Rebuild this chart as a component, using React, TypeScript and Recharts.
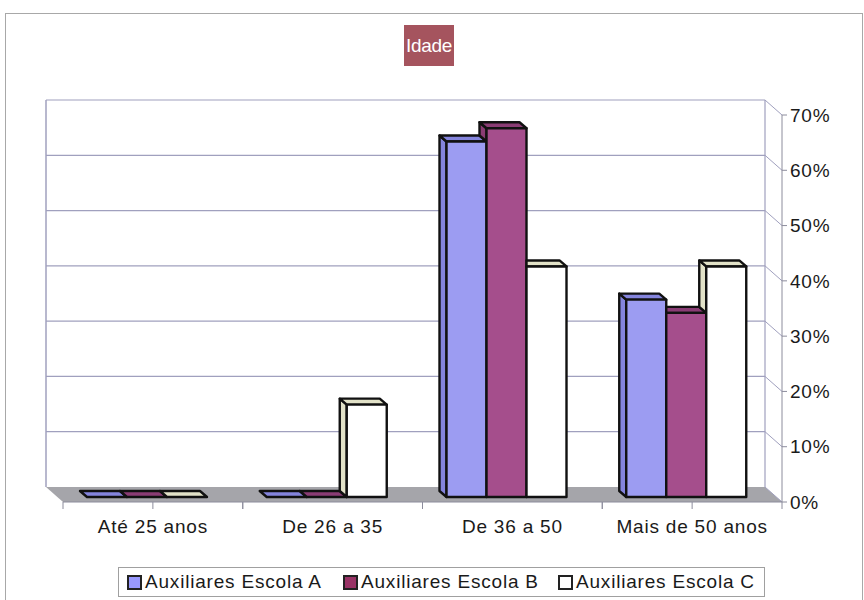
import { Bar, BarChart, CartesianGrid, Legend, XAxis, YAxis } from "recharts";

const categories = ["Até 25 anos", "De 26 a 35", "De 36 a 50", "Mais de 50 anos"];
const escolaA = [0, 0, 64.3, 35.7];
const escolaB = [0, 0, 66.7, 33.3];
const escolaC = [0, 16.7, 41.7, 41.7];
const seriesNames = ["Auxiliares Escola A", "Auxiliares Escola B", "Auxiliares Escola C"];
const yTicks = [0, 10, 20, 30, 40, 50, 60, 70];

const data = categories.map((name, i) => ({
  name,
  a: escolaA[i],
  b: escolaB[i],
  c: escolaC[i],
}));

const FONT = "'Liberation Sans', Arial, sans-serif";
const GRID = "#A0A0BE";
const AXIS = "#8C8C9C";
const TEXT = "#1A1A1A";

// wall depth, bar offset from front plane, bar depth
const DX = 17;
const DY = 15;
const BOX = -6;
const BOY = -5;
const BD = 7;
const BDY = 6;

const pts = (a: number[][]) => a.map((p) => p.join(",")).join(" ");

type Key = "a" | "b" | "c";

function bar3d(key: Key, prevKey: Key | null, face: string, shade: string) {
  return (p: any) => {
    const w = p.width;
    const h = p.height;
    if (w == null || h == null || p.x == null || p.y == null) return <g />;
    const x = p.x + BOX;
    const y = p.y + BOY;
    const base = y + h;
    const v = p.payload?.[key] ?? 0;
    const pv = prevKey ? p.payload?.[prevKey] ?? 0 : -1;
    const clip = prevKey !== null && pv > v;
    const top = clip
      ? [[x, y], [x + w, y], [x + w - BD, y - BDY], [x, y - BDY]]
      : [[x, y], [x + w, y], [x + w - BD, y - BDY], [x - BD, y - BDY]];
    let sideBottom: number | null = null;
    if (prevKey === null) sideBottom = base;
    else if (v > 0 && pv < v) sideBottom = base - (h * pv) / v;
    const line = { stroke: "#111", strokeWidth: 2.4, strokeLinejoin: "round" as const };
    return (
      <g>
        {sideBottom !== null && sideBottom > y && (
          <polygon
            points={pts([[x, y], [x - BD, y - BDY], [x - BD, sideBottom - BDY], [x, sideBottom]])}
            fill={shade}
            {...line}
          />
        )}
        <polygon points={pts(top)} fill={shade} {...line} />
        {h > 0 && <rect x={x} y={y} width={w} height={h} fill={face} {...line} />}
      </g>
    );
  };
}

function wallLine(p: any) {
  const { x1, x2, y1 } = p;
  const top = p.y;
  const bottom = p.y + p.height;
  const isBottom = Math.abs(y1 - bottom) < 0.5;
  const isTop = Math.abs(y1 - top) < 0.5;
  return (
    <g key={p.key}>
      {isBottom ? (
        <polygon
          points={pts([[x1 - DX, y1 - DY], [x2 - DX, y1 - DY], [x2, y1], [x1, y1]])}
          fill="#A5A5AA"
        />
      ) : (
        <line x1={x1 - DX} y1={y1 - DY} x2={x2 - DX} y2={y1 - DY} stroke={GRID} strokeWidth={1.2} />
      )}
      <line x1={x2 - DX} y1={y1 - DY} x2={x2} y2={y1} stroke={GRID} />
      {isTop && (
        <>
          <line x1={x1 - DX} y1={top - DY} x2={x1 - DX} y2={bottom - DY} stroke={GRID} strokeWidth={1.5} />
          <line x1={x2 - DX} y1={top - DY} x2={x2 - DX} y2={bottom - DY} stroke={GRID} strokeWidth={1.2} />
        </>
      )}
    </g>
  );
}

function catTicks(p: any) {
  const band = (p.width ?? 0) / categories.length;
  const yb = p.y2;
  return (
    <g key={p.key}>
      <line x1={p.x1 - band / 2} y1={yb} x2={p.x1 - band / 2} y2={yb + 7} stroke={AXIS} />
      <line x1={p.x1 + band / 2} y1={yb} x2={p.x1 + band / 2} y2={yb + 7} stroke={AXIS} />
    </g>
  );
}

const legendColors = ["#9999FF", "#993366", "#FFFFFF"];
const legendLefts = [8, 224, 439];

function LegendBox() {
  return (
    <div
      style={{
        boxSizing: "border-box",
        position: "relative",
        width: 647,
        height: 30,
        border: "1px solid #A0A0A0",
        background: "#fff",
        fontFamily: FONT,
        fontSize: 19,
        letterSpacing: 0.8,
        color: TEXT,
        whiteSpace: "nowrap",
      }}
    >
      {seriesNames.map((n, i) => (
        <span
          key={n}
          style={{
            position: "absolute",
            left: legendLefts[i],
            top: 0,
            height: 28,
            display: "flex",
            alignItems: "center",
          }}
        >
          <span
            style={{
              width: 11,
              height: 11,
              border: "2px solid #222",
              background: legendColors[i],
              marginRight: 3,
            }}
          />
          {n}
        </span>
      ))}
    </div>
  );
}

export default function App() {
  return (
    <div
      style={{
        position: "absolute",
        left: 0,
        top: 0,
        width: 864,
        height: 600,
        overflow: "hidden",
        background: "#fff",
      }}
    >
      <div
        style={{
          position: "absolute",
          left: 5,
          top: 13,
          width: 856,
          height: 620,
          border: "1px solid #A8A8A8",
        }}
      />
      <BarChart
        width={864}
        height={600}
        data={data}
        barGap={0}
        margin={{ top: 115, right: 0, bottom: 68, left: 63 }}
      >
        <CartesianGrid horizontal={wallLine} vertical={catTicks} />
        <XAxis
          dataKey="name"
          interval={0}
          axisLine={{ stroke: AXIS }}
          tickLine={false}
          tickMargin={12}
          height={30}
          tick={{ fontSize: 19, fill: TEXT, fontFamily: FONT, letterSpacing: 0.8 }}
        />
        <YAxis
          orientation="right"
          domain={[0, 70]}
          ticks={yTicks}
          width={82}
          tickFormatter={(v) => `${v}%`}
          axisLine={{ stroke: AXIS }}
          tickLine={{ stroke: AXIS }}
          tickSize={5}
          tickMargin={3}
          tick={{ fontSize: 19, fill: TEXT, fontFamily: FONT, letterSpacing: 0.8 }}
        />
        <Legend
          verticalAlign="middle"
          align="center"
          layout="horizontal"
          wrapperStyle={{ left: 118, top: 567, width: 647, height: 30 }}
          content={() => <LegendBox />}
        />
        <Bar
          dataKey="a"
          name={seriesNames[0]}
          fill="#9999FF"
          barSize={40}
          isAnimationActive={false}
          shape={bar3d("a", null, "#9C9CF2", "#8484DC")}
        />
        <Bar
          dataKey="b"
          name={seriesNames[1]}
          fill="#993366"
          barSize={40}
          isAnimationActive={false}
          shape={bar3d("b", "a", "#A54E8C", "#8A3C74")}
        />
        <Bar
          dataKey="c"
          name={seriesNames[2]}
          fill="#FFFFFF"
          barSize={40}
          isAnimationActive={false}
          shape={bar3d("c", "b", "#FFFFFF", "#E2E2C8")}
        />
      </BarChart>
      <div
        style={{
          position: "absolute",
          left: 404,
          top: 25,
          width: 50,
          height: 41,
          background: "#A5545E",
          color: "#fff",
          fontFamily: FONT,
          fontSize: 19,
          letterSpacing: -0.3,
          display: "flex",
          alignItems: "center",
          justifyContent: "center",
        }}
      >
        Idade
      </div>
    </div>
  );
}
